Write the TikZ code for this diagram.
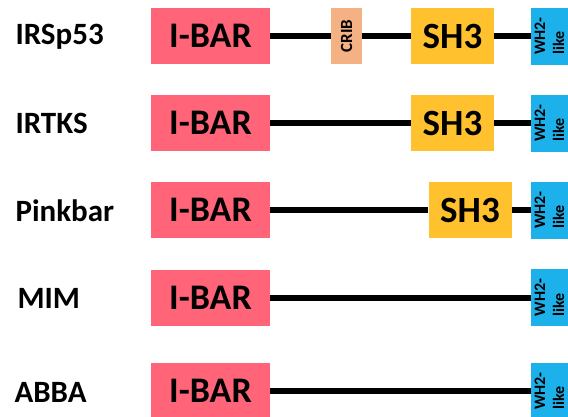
\documentclass[tikz,border=0pt]{standalone}
\usepackage{fontspec}
\setmainfont{Carlito}
\definecolor{ibarpink}{HTML}{FF6478}
\definecolor{cribpeach}{HTML}{F4B183}
\definecolor{shgold}{HTML}{FFC12E}
\definecolor{whblue}{HTML}{1DB1EC}
\begin{document}
\begin{tikzpicture}[x=1pt,y=-1pt,
	protein/.style={anchor=west,font=\fontsize{31}{31}\selectfont\bfseries},
	dombox/.style={inner sep=0pt,minimum height=56pt},
	ibar/.style={dombox,fill=ibarpink,minimum width=119pt,font=\fontsize{36}{36}\selectfont\bfseries},
	sh/.style={dombox,fill=shgold,minimum width=83pt,font=\fontsize{37}{37}\selectfont\bfseries},
	crib/.style={dombox,fill=cribpeach,rotate=90,minimum width=56pt,minimum height=31pt,font=\fontsize{17}{17}\selectfont\bfseries},
	wh/.style={dombox,fill=whblue,rotate=90,minimum width=57pt,minimum height=37pt,align=left,font=\fontsize{16}{19}\selectfont\bfseries},
	link/.style={line width=6pt}]
\useasboundingbox (0,0) rectangle (568,416);
\clip (0,0) rectangle (568,416);
% IRSp53
\node[protein] (irsp) at (12,37) {IRSp53};
\node[ibar] (ibar1) at (210.5,36) {I-BAR};
\node[crib] (crib1) at (346.5,36) {CRIB};
\node[sh] (sh1) at (452.5,36) {SH3};
\node[wh] (wh1) at (549.5,36) {WH2-\\like};
\draw[link] (ibar1.east) -- (crib1.north);
\draw[link] (crib1.south) -- (sh1.west);
\draw[link] (sh1.east) -- (wh1.north);
% IRTKS
\node[protein] (irtks) at (12,123) {IRTKS};
\node[ibar] (ibar2) at (210.5,123) {I-BAR};
\node[sh] (sh2) at (452.5,123) {SH3};
\node[wh] (wh2) at (549.5,123) {WH2-\\like};
\draw[link] (ibar2.east) -- (sh2.west);
\draw[link] (sh2.east) -- (wh2.north);
% Pinkbar
\node[protein] (pinkbar) at (12,211) {Pinkbar};
\node[ibar] (ibar3) at (210.5,210) {I-BAR};
\node[sh] (sh3) at (470,210) {SH3};
\node[wh] (wh3) at (549.5,210) {WH2-\\like};
\draw[link] (ibar3.east) -- (sh3.west);
\draw[link] (sh3.east) -- (wh3.north);
% MIM
\node[protein] (mim) at (14,298) {MIM};
\node[ibar] (ibar4) at (210.5,297.5) {I-BAR};
\node[wh] (wh4) at (549.5,297.5) {WH2-\\like};
\draw[link] (ibar4.east) -- (wh4.north);
% ABBA
\node[protein] (abba) at (11,392) {ABBA};
\node[ibar] (ibar5) at (210.5,391) {I-BAR};
\node[wh] (wh5) at (549.5,391) {WH2-\\like};
\draw[link] (ibar5.east) -- (wh5.north);
\end{tikzpicture}
\end{document}
